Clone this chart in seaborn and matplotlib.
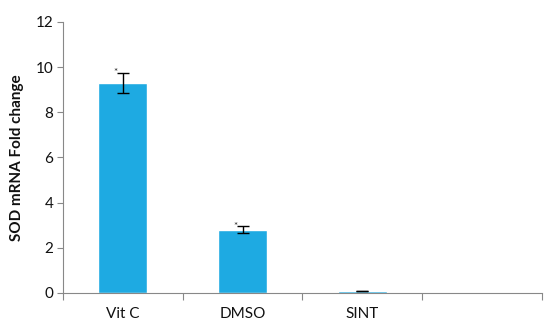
import matplotlib
matplotlib.use("Agg")
import matplotlib.pyplot as plt
import seaborn as sns
import pandas as pd
import numpy as np

categories = ["Vit C", "DMSO", "SINT"]
fold_change = [9.3, 2.8, 0.09]
errors = [0.45, 0.15, 0.02]
marks = ["*", "*", ""]
slots = categories + [" "]

sns.set_theme(style="white")
plt.rcParams["font.family"] = ["Lato", "DejaVu Sans"]

df = pd.DataFrame({"group": categories, "value": fold_change})

fig = plt.figure(figsize=(5.5, 3.27), dpi=100)
ax = fig.add_axes([0.1145, 0.104, 0.8705, 0.829])

sns.barplot(data=df, x="group", y="value", order=slots, color="#1EAAE2",
            saturation=1, width=0.41, errorbar=None, ax=ax)

xpos = np.arange(len(categories))
ax.errorbar(xpos, fold_change, yerr=errors, fmt="none", ecolor="black",
            elinewidth=1, capsize=4, capthick=1)
for x, y, e, m in zip(xpos, fold_change, errors, marks):
    if m:
        ax.text(x - 0.06, y + e, m, ha="center", va="center",
                fontsize=7, color="#222222")

ax.set_ylim(0, 12)
ax.set_xlim(-0.5, len(slots) - 0.5)
ax.set_yticks(range(0, 13, 2))
ax.tick_params(axis="y", labelsize=11, length=4, width=0.8, color="#888888",
               direction="out", left=True, pad=3, labelcolor="#111111")

# category boundaries as major ticks, names as minor ticks
ax.set_xticks(np.arange(len(slots) + 1) - 0.5)
ax.set_xticklabels([""] * (len(slots) + 1))
ax.set_xticks(np.arange(len(slots)), minor=True)
ax.set_xticklabels(slots, minor=True)
ax.tick_params(axis="x", which="major", length=5, width=0.8, color="#888888",
               direction="out", bottom=True)
ax.tick_params(axis="x", which="minor", length=0, labelsize=11, pad=10,
               labelcolor="#111111")

ax.set_xlabel("")
ax.set_ylabel("SOD mRNA Fold change", fontsize=11, fontweight="bold",
              color="#111111", labelpad=8)

for side in ["top", "right"]:
    ax.spines[side].set_visible(False)
for side in ["left", "bottom"]:
    ax.spines[side].set_color("#888888")
    ax.spines[side].set_linewidth(0.8)

fig.savefig("out.png", dpi=100)
